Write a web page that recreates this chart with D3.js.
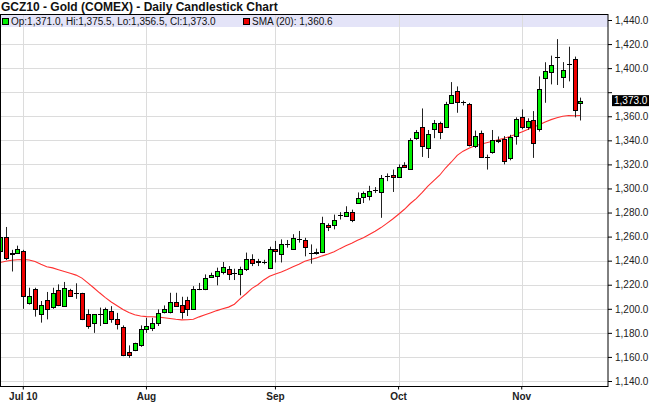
<!DOCTYPE html>
<html><head><meta charset="utf-8">
<script src="https://cdn.jsdelivr.net/npm/d3@7"></script>
<style>
html,body{margin:0;padding:0;background:#fff;}
svg{display:block;font-family:"Liberation Sans",Arial,sans-serif;}
</style></head>
<body><svg id="c" width="650" height="404"></svg>
<script>
const title = "GCZ10 - Gold (COMEX) - Daily Candlestick Chart";
const dates = ["06-25","06-28","06-29","06-30",
"07-01","07-02","07-06","07-07","07-08","07-09","07-12","07-13","07-14","07-15","07-16","07-19","07-20","07-21","07-22","07-23","07-26","07-27","07-28","07-29","07-30",
"08-02","08-03","08-04","08-05","08-06","08-09","08-10","08-11","08-12","08-13","08-16","08-17","08-18","08-19","08-20","08-23","08-24","08-25","08-26","08-27","08-30","08-31",
"09-01","09-02","09-03","09-07","09-08","09-09","09-10","09-13","09-14","09-15","09-16","09-17","09-20","09-21","09-22","09-23","09-24","09-27","09-28","09-29","09-30",
"10-01","10-04","10-05","10-06","10-07","10-08","10-11","10-12","10-13","10-14","10-15","10-18","10-19","10-20","10-21","10-22","10-25","10-26","10-27","10-28","10-29",
"11-01","11-02","11-03","11-04","11-05","11-08","11-09","11-10","11-11","11-12","11-15"];
const opens = [1248,1260,1245.5,1246.5,
1248,1204.5,1216.5,1196,1207,1201.7,1216,1202.2,1216,1212.8,1212.8,1195.3,1188.4,1195.5,1188.4,1198,1191.7,1185,1164,1165.6,1170.3,
1183.5,1184.3,1188.4,1197.3,1197.3,1205.5,1202.8,1207,1200,1216.6,1216.6,1226.7,1227.3,1230.6,1233.3,1229.6,1228.6,1232.8,1241.7,1240,1239,1234.2,
1250,1245.3,1253.5,1250,1257.7,1257.2,1246.5,1246.5,1247.5,1270,1269.3,1277.5,1277.5,1280.8,1287.9,1292.6,1294,1298.3,1296.7,1310.3,1310.8,
1309.7,1319.9,1316.3,1341.8,1350.8,1333.6,1349.2,1354.7,1351.4,1371.1,1381,1371.5,1370.6,1334.9,1345.9,1326.2,1330,1340.4,1341.5,1325.4,1343.2,
1359.7,1351.4,1356.9,1349.2,1392,1396.7,1409.6,1392.6,1403,1407.6,1371];
const highs = [1268.5,1268,1249,1252.5,
1249,1217.5,1217.5,1206.5,1214,1217.5,1220.3,1222.3,1216.6,1221.2,1213.3,1199.5,1195.6,1201,1201,1202.2,1196.6,1186.2,1169.6,1171.8,1186.2,
1192.5,1192.5,1199.5,1202.8,1213.3,1213.3,1210,1210,1218.8,1221.5,1228.6,1230,1234.2,1238.9,1235.5,1233.3,1235,1246.7,1245.3,1241.5,1240.7,1251.6,
1256.4,1257.7,1257.2,1262,1264.7,1259,1253.5,1250,1276.5,1271,1278.3,1280.3,1285.2,1282.4,1296.7,1297.5,1302.2,1301.1,1311.2,1312.5,1315.7,
1320,1321.8,1341.8,1348.6,1366.5,1348.6,1356.9,1355.5,1372,1388.4,1384.8,1373,1371.1,1348.1,1348.1,1328.1,1348.6,1343.2,1343.5,1344.6,1359.1,
1365.7,1358.3,1364.3,1393.1,1404.9,1410.4,1424.1,1405,1417.8,1409.6,1375.5];
const lows = [1246.5,1240.5,1231,1246,
1200,1203.5,1193.5,1188.5,1191.2,1200,1202.2,1201.7,1210,1208.3,1190.6,1183.4,1180,1185.7,1187.8,1188.4,1182.8,1160.6,1159.2,1164.8,1168.4,
1180,1181.5,1185.7,1196.2,1196.2,1201.7,1191.7,1194,1199.5,1215.5,1215.5,1225.8,1219.5,1228.6,1223.9,1223.9,1211.2,1231.4,1235.5,1235.5,1237,1233,
1238.5,1238.5,1250.8,1249.4,1255,1243.6,1237.5,1245,1246.3,1264.6,1266,1274.2,1276.6,1272,1287.4,1287.9,1290.1,1296.2,1275.6,1306.1,1297.1,
1308.9,1317.1,1315.7,1340.4,1326.2,1325.3,1341.8,1341,1350.8,1370.6,1362.9,1369,1334.9,1333.6,1325.3,1315.7,1328.9,1337.7,1320,1323.4,1336.4,
1349.2,1348.7,1325.4,1347.3,1371.2,1386.5,1386,1383.5,1389,1359.1,1356.5];
const closes = [1260,1242.5,1246.5,1250,
1211,1211,1199.5,1203,1200,1213.4,1202.8,1217.5,1211,1213,1191.7,1185.7,1195.3,1195.2,1199.5,1191.7,1187,1161.2,1161.2,1171.2,1183.5,
1185.7,1187.8,1196.2,1199.5,1205.5,1202.2,1197.3,1199.5,1216.6,1217,1225.8,1227.8,1231.4,1235,1228.6,1229.4,1233.3,1241.7,1238.4,1238.7,1239.1,1250,
1248,1253.5,1253.6,1259,1257.8,1251.2,1246.6,1247.5,1271.5,1268.3,1273.7,1277.6,1280.8,1274.2,1292,1296.1,1298.3,1298.4,1308.5,1310.4,1309.4,
1317.9,1317.9,1340.4,1347.3,1335.5,1345.1,1354.7,1347.3,1370.6,1377.4,1372,1371.4,1336.3,1343.7,1326.2,1326.3,1339.9,1339.1,1322.8,1342.7,1357.5,
1350.9,1356.4,1337.7,1383,1397.5,1403,1409.7,1398.6,1403.1,1365.1,1373];
const sma20 = [1238.5,1239.5,1240.3,1240.8,
1241,1240.6,1239.3,1237,1235,1234,1232.5,1231,1229.5,1228,1225.5,1221.5,1217.5,1213.3,1209.3,1205.7,1202.6,1199.5,1197,1195,1194,
1193.5,1193.4,1193.1,1192.5,1192,1191.3,1190.8,1190.9,1191.3,1193.3,1195,1196.8,1198.5,1200,1201.4,1203.8,1208.4,1212.5,1217,1220,1224,1227,
1229,1230.6,1232.6,1235,1237,1239.5,1241,1242.3,1244,1245.5,1247.5,1250,1252.3,1254.5,1257,1259,1261.8,1264.5,1267.5,1271,1274.6,
1278.6,1282.7,1287.5,1291.6,1296.5,1302,1306.5,1311,1317,1322,1327.5,1331,1333.5,1335.5,1336.8,1338,1339.2,1340.5,1341.8,1343.2,1345,
1347,1349,1351,1353,1355.3,1357.2,1358.7,1360,1360.6,1360.4,1360.6];
const monthTicks = ["07-01","08-02","09-01","10-01","11-01"];
const monthLabels = ["Jul 10","Aug","Sep","Oct","Nov"];
const yTicks = [1140,1160,1180,1200,1220,1240,1260,1280,1300,1320,1340,1360,1380,1400,1420,1440];
const legendOHLC = "Op:1,371.0, Hi:1,375.5, Lo:1,356.5, Cl:1,373.0";
const legendSMA = "SMA (20): 1,360.6";
const lastPrice = 1373.0;

const svg = d3.select("#c");
const L = 0.5, R = 608, T = 14.5, B = 386.5;
const step = 5.864, c0 = -0.16;
const x = d3.scaleBand().domain(dates).range([c0 - step/2, c0 - step/2 + step*dates.length]).padding(0);
const xc = d => x(d) + x.bandwidth()/2;
const y = d3.scaleLinear().domain([1140,1440]).range([381,20]);
const fmt = d3.format(",.1f");

svg.append("defs").append("clipPath").attr("id","pc").append("rect")
  .attr("x",L).attr("y",T).attr("width",R-L).attr("height",B-T);

// horizontal grid
svg.append("g").selectAll("line").data(yTicks).join("line")
  .attr("x1",L).attr("x2",R).attr("y1",d=>Math.round(y(d))+0.5).attr("y2",d=>Math.round(y(d))+0.5)
  .attr("stroke","#dcdcdc").attr("stroke-width",1);
// legend band
svg.append("rect").attr("x",L).attr("y",T).attr("width",R-L).attr("height",12.5).attr("fill","#e4e4f8");
// vertical grid
svg.append("g").selectAll("line").data(monthTicks).join("line")
  .attr("x1",d=>Math.round(xc(d))+0.5).attr("x2",d=>Math.round(xc(d))+0.5).attr("y1",T).attr("y2",B)
  .attr("stroke","#dcdcdc").attr("stroke-width",1);

// SMA line
const plot = svg.append("g").attr("clip-path","url(#pc)");
plot.append("path").datum(dates.map((d,i)=>[xc(d), y(sma20[i])]))
  .attr("d", d3.line()).attr("fill","none").attr("stroke","#ff3030").attr("stroke-width",1.1);

// candles
const cg = plot.append("g");
dates.forEach((d,i)=>{
  const cx = Math.round(xc(d)) + 0.5;
  const o = opens[i], c = closes[i], h = highs[i], l = lows[i];
  cg.append("line").attr("x1",cx).attr("x2",cx).attr("y1",y(h)).attr("y2",y(l))
    .attr("stroke","#222").attr("stroke-width",1);
  const yt = y(Math.max(o,c)), yb = y(Math.min(o,c));
  if (yb - yt < 1.2) {
    const yy = Math.round((yt+yb)/2)+0.5;
    cg.append("line").attr("x1",cx-2.5).attr("x2",cx+2.5).attr("y1",yy).attr("y2",yy)
      .attr("stroke","#000").attr("stroke-width",1);
  } else {
    cg.append("rect").attr("x",cx-2).attr("width",4)
      .attr("y",Math.round(yt)+0.5).attr("height",Math.max(1,Math.round(yb)-Math.round(yt)))
      .attr("fill", c >= o ? "#00ee00" : "#ee0000").attr("stroke","#000").attr("stroke-width",1);
  }
});

// frame
svg.append("rect").attr("x",L).attr("y",T).attr("width",R-L).attr("height",B-T)
  .attr("fill","none").attr("stroke","#000").attr("stroke-width",1);

// legend
svg.append("rect").attr("x",2.5).attr("y",18.5).attr("width",6).attr("height",6)
  .attr("fill","#00ee00").attr("stroke","#000").attr("stroke-width",1);
svg.append("text").attr("x",11).attr("y",25).attr("font-size",10).attr("fill","#111").text(legendOHLC);
svg.append("rect").attr("x",243.5).attr("y",18.5).attr("width",6).attr("height",6)
  .attr("fill","#ee0000").attr("stroke","#000").attr("stroke-width",1);
svg.append("text").attr("x",252).attr("y",25).attr("font-size",10).attr("fill","#111").text(legendSMA);

// title
svg.append("text").attr("x",1).attr("y",11).attr("font-size",12).attr("font-weight","bold")
  .attr("fill","#111").text(title);

// y axis
const yp = y(lastPrice);
const ya = svg.append("g").attr("transform",`translate(${R},0)`)
  .call(d3.axisRight(y).tickValues(yTicks).tickFormat(fmt).tickSize(4).tickPadding(3));
ya.select(".domain").remove();
ya.selectAll("line").attr("stroke","#000");
ya.selectAll("text").attr("font-size",10).attr("font-family","Liberation Sans, Arial, sans-serif").attr("fill","#222");
// labels hidden behind the last-price tag
ya.selectAll(".tick").filter(d => Math.abs(y(d) - yp) < 11).select("text").remove();

// last price tag
svg.append("rect").attr("x",612).attr("y",yp-5.5).attr("width",37).attr("height",11).attr("fill","#000");
svg.append("text").attr("x",614).attr("y",yp+3.6).attr("font-size",10).attr("fill","#fff").text(fmt(lastPrice));

// x axis
const xa = svg.append("g").attr("transform",`translate(0,${B})`)
  .call(d3.axisBottom(x).tickValues(monthTicks).tickFormat((d,i)=>monthLabels[i]).tickSize(3).tickPadding(3));
xa.select(".domain").remove();
xa.selectAll("line").attr("stroke","#000");
xa.selectAll("text").attr("font-size",10).attr("font-weight","bold")
  .attr("font-family","Liberation Sans, Arial, sans-serif").attr("fill","#222");
</script></body></html>
